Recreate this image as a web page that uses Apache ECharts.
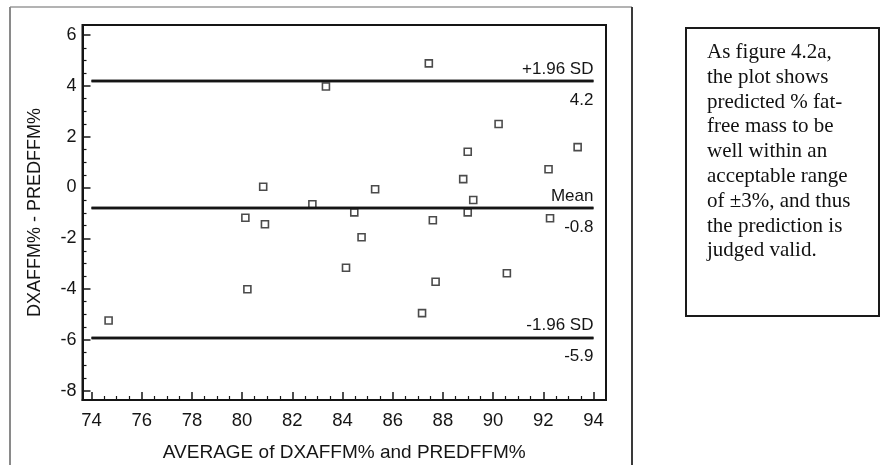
<!DOCTYPE html>
<html>
<head>
<meta charset="utf-8">
<script src="https://cdn.jsdelivr.net/npm/echarts@6/dist/echarts.min.js"></script>
<style>
  html, body { margin: 0; padding: 0; background: #fff; }
  #chart { width: 881px; height: 465px; }
</style>
</head>
<body>
<div id="chart"></div>
<script>
// Bland-Altman plot: DXA fat-free mass % vs predicted fat-free mass %
const avgValues = [74.68, 80.13, 80.21, 80.84, 80.91, 82.80, 83.34, 84.14, 84.47, 84.76, 85.30, 87.17,
                   87.44, 87.60, 87.71, 88.81, 88.99, 88.99, 89.21, 90.22, 90.55, 92.21, 92.27, 93.37];
const diffValues = [-5.24, -1.19, -4.01, 0.03, -1.45, -0.66, 3.98, -3.16, -0.98, -1.96, -0.07, -4.95,
                    4.89, -1.29, -3.71, 0.33, 1.41, -0.98, -0.49, 2.50, -3.38, 0.72, -1.21, 1.59];

const xTicks = [74, 76, 78, 80, 82, 84, 86, 88, 90, 92, 94];
const yTicks = [-8, -6, -4, -2, 0, 2, 4, 6];

const limitNames = ['+1.96 SD', 'Mean', '-1.96 SD'];
const limitValues = [4.2, -0.8, -5.9];
const limitSpan = [74, 94];

const xTitle = 'AVERAGE of DXAFFM% and PREDFFM%';
const yTitle = 'DXAFFM% - PREDFFM%';

const noteLines = [
  'As figure 4.2a,',
  'the plot shows',
  'predicted % fat-',
  'free mass to be',
  'well within an',
  'acceptable range',
  'of \u00B13%, and thus',
  'the prediction is',
  'judged valid.'
];

// minor ticks at quarter steps between consecutive major ticks
function minorBetween(ticks, parts) {
  const out = [];
  for (let i = 1; i < ticks.length; i++) {
    const a = ticks[i - 1], step = (ticks[i] - a) / parts;
    for (let k = 1; k < parts; k++) out.push(+(a + k * step).toFixed(4));
  }
  return out;
}
const xMinor = minorBetween(xTicks, 4);
const yMinor = minorBetween(yTicks, 4);

const X_MIN = 73.64, X_MAX = 94.5;
const Y_MIN = -8.37, Y_MAX = 6.4;

const SANS = 'Liberation Sans, Arial, sans-serif';
const INK = '#151515';

const markLineData = [];
limitNames.forEach((name, i) => {
  const v = limitValues[i];
  markLineData.push([
    { coord: [limitSpan[0], v],
      label: { show: true, position: 'insideEndTop', formatter: name, distance: [0, 3] } },
    { coord: [limitSpan[1], v] }
  ]);
  markLineData.push([
    { coord: [limitSpan[0], v],
      label: { show: true, position: 'insideEndBottom', formatter: v.toFixed(1), distance: [0, 11] } },
    { coord: [limitSpan[1], v] }
  ]);
});

const chart = echarts.init(document.getElementById('chart'), null, { renderer: 'canvas' });

const option = {
  backgroundColor: '#fff',
  animation: false,
  grid: {
    left: 82.5, top: 25, right: 275, bottom: 65,
    outerBoundsMode: 'none', containLabel: false,
    show: true, borderColor: INK, borderWidth: 2, backgroundColor: 'transparent'
  },
  xAxis: [
    {
      type: 'value', min: X_MIN, max: X_MAX, position: 'bottom',
      name: xTitle, nameLocation: 'middle', nameGap: 43,
      nameTextStyle: { fontFamily: SANS, fontSize: 19, color: INK },
      axisLine: { show: true, onZero: false, lineStyle: { color: INK, width: 2 } },
      axisTick: { show: true, inside: true, length: 8, customValues: xTicks, lineStyle: { color: INK, width: 1.5 } },
      axisLabel: { show: true, customValues: xTicks, margin: 11, fontFamily: SANS, fontSize: 18.5, color: INK },
      splitLine: { show: false }
    },
    {
      type: 'value', min: X_MIN, max: X_MAX, position: 'bottom',
      axisLine: { show: false, onZero: false },
      axisTick: { show: true, inside: true, length: 4, customValues: xMinor, lineStyle: { color: INK, width: 1.2 } },
      axisLabel: { show: false },
      splitLine: { show: false }
    }
  ],
  yAxis: [
    {
      type: 'value', min: Y_MIN, max: Y_MAX, position: 'left',
      name: yTitle, nameLocation: 'middle', nameGap: 38, nameRotate: 90,
      nameTextStyle: { fontFamily: SANS, fontSize: 18, color: INK },
      axisLine: { show: true, onZero: false, lineStyle: { color: INK, width: 2 } },
      axisTick: { show: true, inside: true, length: 8, customValues: yTicks, lineStyle: { color: INK, width: 1.5 } },
      axisLabel: { show: true, customValues: yTicks, margin: 6, fontFamily: SANS, fontSize: 18, color: INK },
      splitLine: { show: false }
    },
    {
      type: 'value', min: Y_MIN, max: Y_MAX, position: 'left',
      axisLine: { show: false, onZero: false },
      axisTick: { show: true, inside: true, length: 4, customValues: yMinor, lineStyle: { color: INK, width: 1.2 } },
      axisLabel: { show: false },
      splitLine: { show: false }
    }
  ],
  series: [
    {
      type: 'scatter',
      xAxisIndex: 0, yAxisIndex: 0,
      symbol: 'rect', symbolSize: 7,
      itemStyle: { color: '#fff', borderColor: '#1e1e1e', borderWidth: 1.6 },
      data: avgValues.map((x, i) => [x, diffValues[i]]),
      z: 3,
      markLine: {
        silent: true, symbol: 'none', animation: false,
        lineStyle: { color: INK, width: 2.4, type: 'solid' },
        label: { fontFamily: SANS, fontSize: 17, color: INK },
        emphasis: { disabled: true },
        data: markLineData
      }
    }
  ],
  graphic: [
    // outer frame of the figure panel
    { type: 'line', shape: { x1: 10, y1: 7, x2: 632, y2: 7 }, style: { stroke: '#9a9a9a', lineWidth: 1.5 } },
    { type: 'line', shape: { x1: 10, y1: 7, x2: 10, y2: 465 }, style: { stroke: '#8a8a8a', lineWidth: 2 } },
    { type: 'line', shape: { x1: 632, y1: 7, x2: 632, y2: 465 }, style: { stroke: '#3a3a3a', lineWidth: 2 } },
    // note box at the right
    { type: 'rect', shape: { x: 686, y: 28, width: 193, height: 288 },
      style: { fill: '#fff', stroke: '#1a1a1a', lineWidth: 2 } },
    { type: 'text', left: 707, top: 40,
      style: {
        text: noteLines.join('\n'),
        font: '21px "Liberation Serif", "Times New Roman", serif',
        lineHeight: 24.8, fill: '#111'
      } }
  ]
};

chart.setOption(option);
</script>
</body>
</html>
